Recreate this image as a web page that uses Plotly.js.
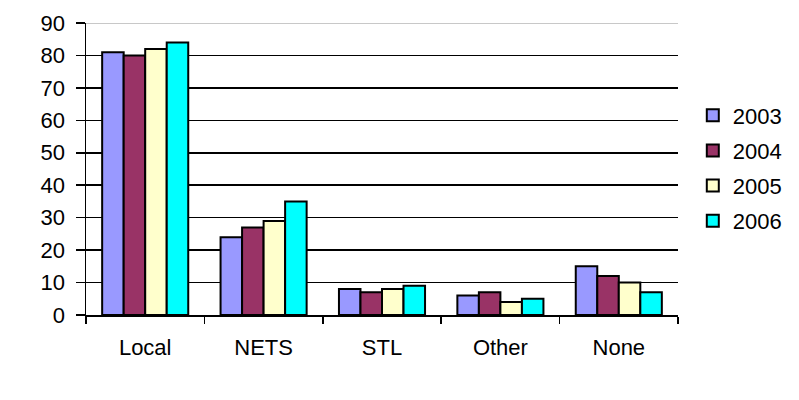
<!DOCTYPE html>
<html>
<head>
<meta charset="utf-8">
<script src="https://cdn.plot.ly/plotly-3.0.1.min.js"></script>
<style>html,body{margin:0;padding:0;background:#fff;}#chart{width:799px;height:400px;}</style>
</head>
<body>
<div id="chart"></div>
<script>
var categories = ["Local", "NETS", "STL", "Other", "None"];
var seriesNames = ["2003", "2004", "2005", "2006"];
var v2003 = [81, 24, 8, 6, 15];
var v2004 = [80, 27, 7, 7, 12];
var v2005 = [82, 29, 8, 4, 10];
var v2006 = [84, 35, 9, 5, 7];
var yTicks = [0, 10, 20, 30, 40, 50, 60, 70, 80, 90];

var colors = ["#9999FF", "#993366", "#FFFFCC", "#00FFFF"];
var values = [v2003, v2004, v2005, v2006];

var traces = values.map(function (vals, i) {
  return {
    type: "bar",
    name: seriesNames[i],
    x: categories,
    y: vals,
    legendgroup: "g" + i,
    marker: { color: colors[i], line: { color: "#000000", width: 2 } },
    hoverinfo: "x+y+name"
  };
});

var layout = {
  width: 799,
  height: 400,
  margin: { l: 86, r: 119, t: 23, b: 85 },
  paper_bgcolor: "#ffffff",
  plot_bgcolor: "#ffffff",
  font: { family: "Liberation Sans, Arial, sans-serif", size: 22, color: "#000000" },
  barmode: "group",
  bargap: 0.273,
  bargroupgap: 0,
  xaxis: {
    type: "category",
    tickson: "boundaries",
    ticks: "outside",
    ticklen: 7,
    tickwidth: 1.5,
    tickcolor: "#000000",
    showline: true,
    linecolor: "#000000",
    linewidth: 1.5,
    showgrid: false,
    ticklabelstandoff: 12,
    tickfont: { size: 22 }
  },
  yaxis: {
    range: [0, 90],
    tickvals: yTicks,
    ticks: "outside",
    ticklen: 9,
    tickwidth: 1.5,
    tickcolor: "#000000",
    showline: true,
    linecolor: "#000000",
    linewidth: 1.5,
    showgrid: true,
    gridcolor: "#000000",
    gridwidth: 1.5,
    zeroline: false,
    ticklabelstandoff: 6,
    tickfont: { size: 22 }
  },
  shapes: [{
    type: "line", xref: "paper", yref: "y", x0: 0, x1: 1, y0: yTicks[yTicks.length - 1], y1: yTicks[yTicks.length - 1],
    line: { color: "#c8c8c8", width: 2 }, layer: "above"
  }],
  legend: {
    x: 1.025,
    xanchor: "left",
    y: 0.755,
    yanchor: "top",
    tracegroupgap: 3.5,
    font: { size: 22 },
    bgcolor: "rgba(0,0,0,0)"
  },
  showlegend: true
};

Plotly.newPlot("chart", traces, layout, { displayModeBar: false, staticPlot: true });
</script>
</body>
</html>
